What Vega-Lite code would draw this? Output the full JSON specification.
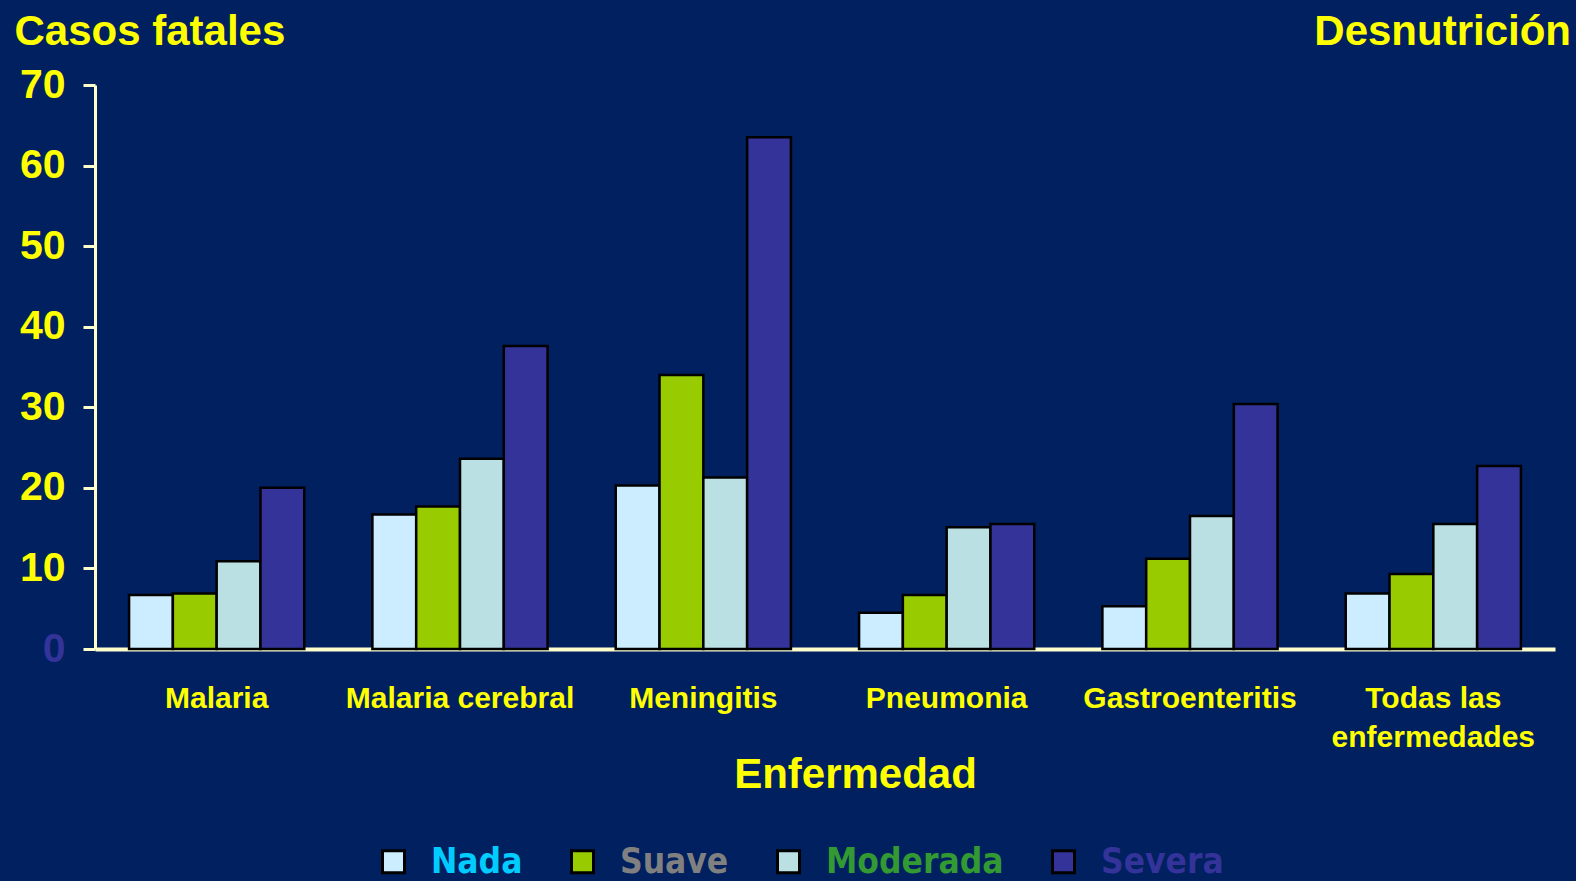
{
  "$schema": "https://vega.github.io/schema/vega-lite/v6.json",
  "width": 1460,
  "height": 564,
  "autosize": {"type": "none"},
  "padding": {"left": 95, "top": 85, "right": 21, "bottom": 232},
  "background": "#002060",
  "title": {
    "text": "Desnutrición",
    "anchor": "end",
    "frame": "group",
    "orient": "top",
    "dx": 16,
    "offset": -44,
    "font": "Liberation Sans",
    "fontSize": 42,
    "fontWeight": "bold",
    "color": "#FFFF00"
  },
  "config": {
    "view": {"stroke": null},
    "font": "Liberation Sans"
  },
  "data": {
    "values": [
      {"enfermedad": "Malaria", "desnutricion": "Nada", "casos": 6.7},
      {"enfermedad": "Malaria", "desnutricion": "Suave", "casos": 6.9},
      {"enfermedad": "Malaria", "desnutricion": "Moderada", "casos": 10.9},
      {"enfermedad": "Malaria", "desnutricion": "Severa", "casos": 20.0},
      {"enfermedad": "Malaria cerebral", "desnutricion": "Nada", "casos": 16.7},
      {"enfermedad": "Malaria cerebral", "desnutricion": "Suave", "casos": 17.7},
      {"enfermedad": "Malaria cerebral", "desnutricion": "Moderada", "casos": 23.6},
      {"enfermedad": "Malaria cerebral", "desnutricion": "Severa", "casos": 37.6},
      {"enfermedad": "Meningitis", "desnutricion": "Nada", "casos": 20.3},
      {"enfermedad": "Meningitis", "desnutricion": "Suave", "casos": 34.0},
      {"enfermedad": "Meningitis", "desnutricion": "Moderada", "casos": 21.3},
      {"enfermedad": "Meningitis", "desnutricion": "Severa", "casos": 63.5},
      {"enfermedad": "Pneumonia", "desnutricion": "Nada", "casos": 4.5},
      {"enfermedad": "Pneumonia", "desnutricion": "Suave", "casos": 6.7},
      {"enfermedad": "Pneumonia", "desnutricion": "Moderada", "casos": 15.1},
      {"enfermedad": "Pneumonia", "desnutricion": "Severa", "casos": 15.5},
      {"enfermedad": "Gastroenteritis", "desnutricion": "Nada", "casos": 5.3},
      {"enfermedad": "Gastroenteritis", "desnutricion": "Suave", "casos": 11.2},
      {"enfermedad": "Gastroenteritis", "desnutricion": "Moderada", "casos": 16.5},
      {"enfermedad": "Gastroenteritis", "desnutricion": "Severa", "casos": 30.4},
      {"enfermedad": "Todas las enfermedades", "desnutricion": "Nada", "casos": 6.9},
      {"enfermedad": "Todas las enfermedades", "desnutricion": "Suave", "casos": 9.3},
      {"enfermedad": "Todas las enfermedades", "desnutricion": "Moderada", "casos": 15.5},
      {"enfermedad": "Todas las enfermedades", "desnutricion": "Severa", "casos": 22.7}
    ]
  },
  "mark": {"type": "bar", "stroke": "#000000", "strokeWidth": 2.5},
  "encoding": {
    "x": {
      "field": "enfermedad",
      "type": "nominal",
      "sort": ["Malaria", "Malaria cerebral", "Meningitis", "Pneumonia", "Gastroenteritis", "Todas las enfermedades"],
      "scale": {"paddingInner": 0.28, "paddingOuter": 0.14},
      "axis": {
        "title": "Enfermedad",
        "titleFont": "Liberation Sans",
        "titleFontSize": 42,
        "titleFontWeight": "bold",
        "titleColor": "#FFFF00",
        "titleX": 760,
        "titleY": 125,
        "titleAlign": "center",
        "titleBaseline": "middle",
        "labelAngle": 0,
        "labelFont": "Liberation Sans",
        "labelFontSize": 30,
        "labelFontWeight": "bold",
        "labelColor": "#FFFF00",
        "labelPadding": 34,
        "labelBaseline": "top",
        "labelLineHeight": 39,
        "labelLimit": 400,
        "labelExpr": "datum.label == 'Todas las enfermedades' ? ['Todas las', 'enfermedades'] : datum.label",
        "ticks": false,
        "domainColor": "#FFFFCC",
        "domainWidth": 4,
        "grid": false
      }
    },
    "xOffset": {
      "field": "desnutricion",
      "type": "nominal",
      "sort": ["Nada", "Suave", "Moderada", "Severa"],
      "scale": {"paddingInner": 0, "paddingOuter": 0}
    },
    "y": {
      "field": "casos",
      "type": "quantitative",
      "scale": {"domain": [0, 70], "nice": false},
      "axis": {
        "values": [0, 10, 20, 30, 40, 50, 60, 70],
        "title": "Casos fatales",
        "titleAngle": 0,
        "titleAlign": "left",
        "titleBaseline": "middle",
        "titleX": -81,
        "titleY": -54,
        "titleFont": "Liberation Sans",
        "titleFontSize": 42,
        "titleFontWeight": "bold",
        "titleColor": "#FFFF00",
        "labelFont": "Liberation Sans",
        "labelFontSize": 41,
        "labelFontWeight": "bold",
        "labelColor": {"condition": {"test": "datum.value == 0", "value": "#333399"}, "value": "#FFFF00"},
        "labelPadding": 18,
        "tickColor": "#FFFFCC",
        "tickWidth": 3,
        "tickSize": 12,
        "domainColor": "#FFFFCC",
        "domainWidth": 3,
        "grid": false
      }
    },
    "color": {
      "field": "desnutricion",
      "type": "nominal",
      "sort": ["Nada", "Suave", "Moderada", "Severa"],
      "scale": {
        "domain": ["Nada", "Suave", "Moderada", "Severa"],
        "range": ["#CCECFF", "#99CC00", "#BBE0E3", "#333399"]
      },
      "legend": {
        "orient": "none",
        "direction": "horizontal",
        "legendX": 281,
        "legendY": 759,
        "title": null,
        "symbolType": "square",
        "symbolSize": 484,
        "symbolStrokeColor": "#000000",
        "symbolStrokeWidth": 3,
        "symbolOpacity": 1,
        "labelFont": "DejaVu Sans Condensed",
        "labelFontSize": 35,
        "labelFontWeight": "bold",
        "labelOffset": 20,
        "columnPadding": 42,
        "labelLimit": 300,
        "encode": {
          "labels": {
            "update": {
              "fill": {"signal": "datum.label == 'Nada' ? '#00CCFF' : datum.label == 'Suave' ? '#808080' : datum.label == 'Moderada' ? '#339933' : '#333399'"}
            }
          }
        }
      }
    }
  }
}
